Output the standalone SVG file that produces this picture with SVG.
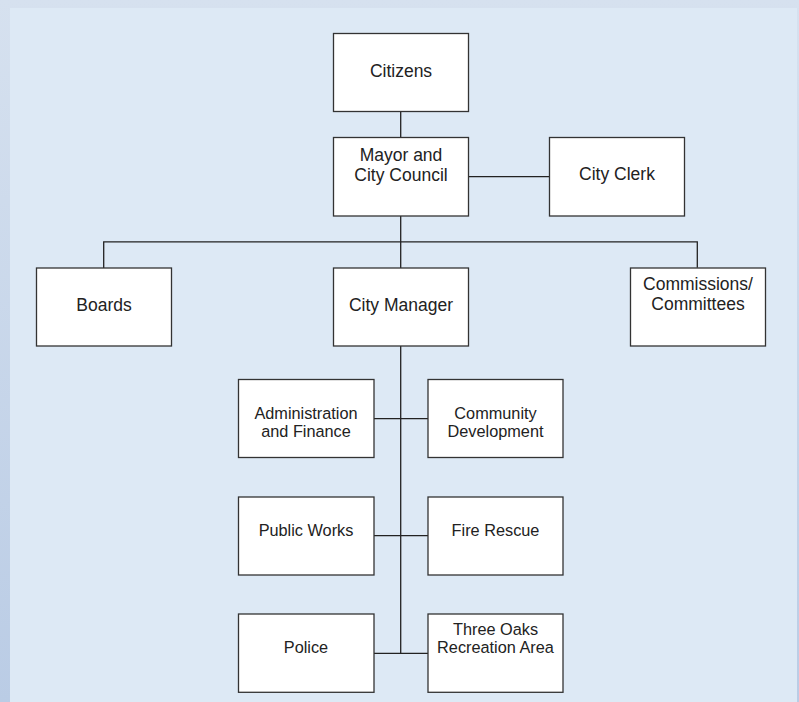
<svg xmlns="http://www.w3.org/2000/svg" width="799" height="702" viewBox="0 0 799 702">
<defs>
<linearGradient id="bg" x1="0" y1="0" x2="0" y2="1">
<stop offset="0" stop-color="#d6e1ef"/>
<stop offset="1" stop-color="#baccE5"/>
</linearGradient>
<style>
.box{fill:#ffffff;stroke:#333333;stroke-width:1.3}
.ln{fill:none;stroke:#222222;stroke-width:1.3}
.t{font-family:"Liberation Sans",Arial,sans-serif;font-size:17.5px;fill:#222222;text-anchor:middle}
.s{font-family:"Liberation Sans",Arial,sans-serif;font-size:16.3px;fill:#222222;text-anchor:middle}
</style>
</defs>
<rect x="0" y="0" width="799" height="702" fill="url(#bg)"/>
<rect x="10" y="8" width="787" height="694" fill="#dde9f5"/>
<g id="connectors">
<line class="ln" x1="400.7" y1="111.7" x2="400.7" y2="137.3"/>
<line class="ln" x1="468.5" y1="176.7" x2="549.5" y2="176.7"/>
<line class="ln" x1="400.7" y1="216" x2="400.7" y2="268"/>
<polyline class="ln" points="103.7,268 103.7,241.8 697.3,241.8 697.3,267.7"/>
<line class="ln" x1="400.7" y1="346" x2="400.7" y2="653.3"/>
<line class="ln" x1="374" y1="418.7" x2="428" y2="418.7"/>
<line class="ln" x1="374" y1="535.7" x2="428" y2="535.7"/>
<line class="ln" x1="374" y1="653.3" x2="428" y2="653.3"/>
</g>
<g id="citizens"><rect class="box" x="333.5" y="33.5" width="135" height="78"/><text class="t" x="401" y="76.7">Citizens</text></g>
<g id="mayor"><rect class="box" x="333.5" y="137.5" width="135" height="78.5"/><text class="t" x="401" y="160.7">Mayor and</text><text class="t" x="401" y="180.7">City Council</text></g>
<g id="clerk"><rect class="box" x="549.5" y="137.5" width="135" height="78.5"/><text class="t" x="617" y="180.3">City Clerk</text></g>
<g id="boards"><rect class="box" x="36.5" y="268" width="135" height="78"/><text class="t" x="104" y="311">Boards</text></g>
<g id="manager"><rect class="box" x="333.5" y="268" width="135" height="78"/><text class="t" x="401" y="311">City Manager</text></g>
<g id="commissions"><rect class="box" x="630.5" y="268" width="135" height="78"/><text class="t" x="698" y="290.3">Commissions/</text><text class="t" x="698" y="309.5">Committees</text></g>
<g id="admin"><rect class="box" x="238.5" y="379.5" width="135.5" height="78"/><text class="s" x="306" y="419.2">Administration</text><text class="s" x="306" y="437.2">and Finance</text></g>
<g id="community"><rect class="box" x="428" y="379.5" width="135" height="78"/><text class="s" x="495.5" y="418.8">Community</text><text class="s" x="495.5" y="437.2">Development</text></g>
<g id="publicworks"><rect class="box" x="238.5" y="497" width="135.5" height="78"/><text class="s" x="306" y="535.7">Public Works</text></g>
<g id="firerescue"><rect class="box" x="428" y="497" width="135" height="78"/><text class="s" x="495.5" y="535.7">Fire Rescue</text></g>
<g id="police"><rect class="box" x="238.5" y="614" width="135.5" height="78.3"/><text class="s" x="306" y="653.3">Police</text></g>
<g id="threeoaks"><rect class="box" x="428" y="614" width="135" height="78.3"/><text class="s" x="495.5" y="634.5">Three Oaks</text><text class="s" x="495.5" y="653.3">Recreation Area</text></g>
</svg>
